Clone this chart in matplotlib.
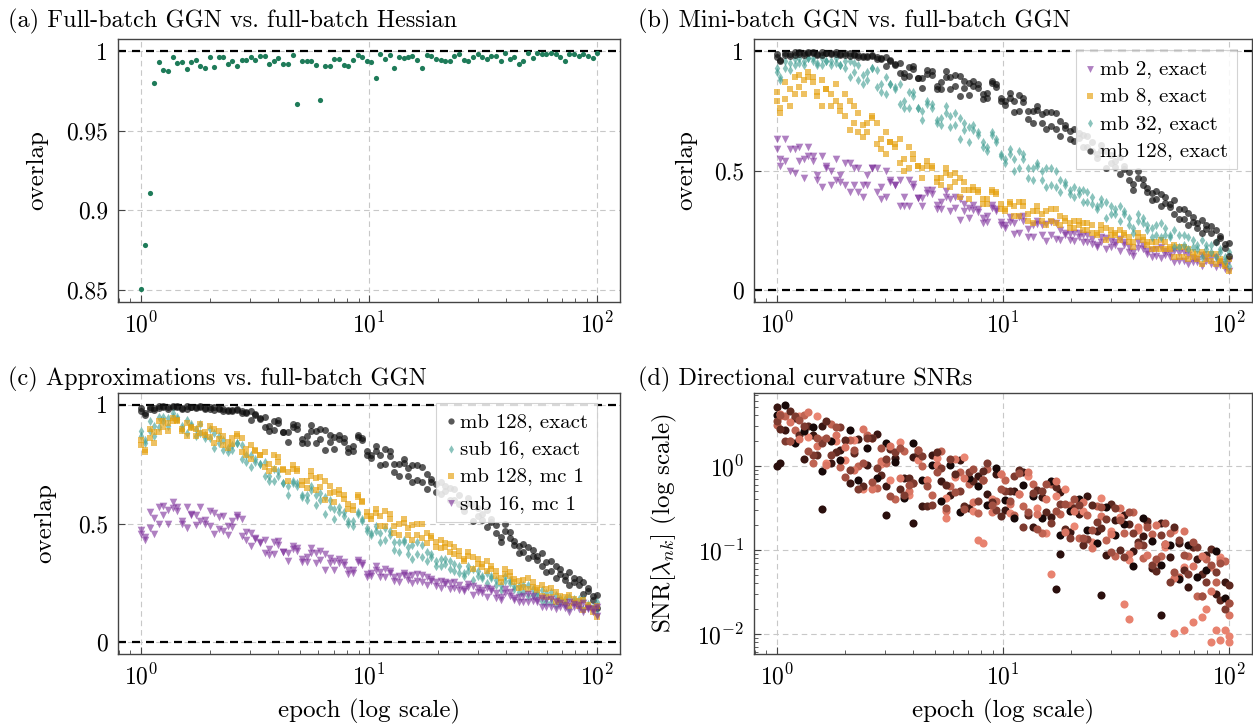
import matplotlib
matplotlib.use("Agg")
import matplotlib.pyplot as plt

plt.rcParams["font.family"] = "cmr10"
plt.rcParams["mathtext.fontset"] = "cm"
plt.rcParams["axes.formatter.use_mathtext"] = True
plt.rcParams["axes.unicode_minus"] = False

# ---- checkpoints (epochs) ----
a_epochs = [1.0, 1.04, 1.094, 1.145, 1.2, 1.257, 1.315, 1.38, 1.445, 1.51,
            1.59, 1.66, 1.745, 1.825, 1.91, 2.0, 2.1, 2.19, 2.29, 2.41,
            2.52, 2.65, 2.77, 2.9, 3.04, 3.18, 3.33, 3.49, 3.66, 3.83,
            4.01, 4.2, 4.4, 4.63, 4.85, 5.09, 5.33, 5.58, 5.85, 6.12,
            6.43, 6.73, 7.05, 7.39, 7.74, 8.13, 8.51, 8.92, 9.35, 9.78,
            10.2, 10.7, 11.2, 11.8, 12.3, 12.9, 13.5, 14.2, 14.8, 15.5,
            16.3, 17.1, 17.9, 18.7, 19.7, 20.6, 21.6, 22.6, 23.6, 24.8,
            26.0, 27.2, 28.5, 29.9, 31.3, 32.8, 34.3, 35.9, 37.7, 39.4,
            41.4, 43.3, 45.3, 47.5, 49.8, 52.2, 54.6, 57.2, 59.9, 62.8,
            65.8, 68.9, 72.2, 75.6, 79.2, 83.0, 86.9, 91.0, 95.4, 100.0]
ep_even = a_epochs[0::2]
ep_odd = a_epochs[1::2]

# ---- (a) full-batch GGN vs full-batch Hessian ----
a_overlap = [0.8506, 0.8783, 0.911, 0.980, 0.993, 0.988, 0.9875, 0.9965, 0.9925, 0.993,
             0.9885, 0.993, 0.9945, 0.9905, 0.989, 0.996, 0.99, 0.996, 0.996, 0.992,
             0.9935, 0.9905, 0.9945, 0.9945, 0.996, 0.9945, 0.997, 0.997, 0.992, 0.9935,
             0.9955, 0.992, 0.992, 0.9975, 0.967, 0.9935, 0.994, 0.9935, 0.9915, 0.9694,
             0.9905, 0.9905, 0.995, 0.995, 0.991, 0.9905, 0.9945, 0.9975, 0.996, 0.994,
             0.993, 0.983, 0.998, 0.995, 0.9975, 0.9895, 0.996, 0.9955, 0.996, 0.997,
             0.9945, 0.9895, 0.9975, 0.997, 0.995, 0.9945, 0.9935, 0.994, 0.997, 0.998,
             0.9945, 0.994, 0.9965, 0.998, 0.9965, 0.995, 0.997, 0.997, 0.994, 0.9985,
             0.995, 0.9965, 0.992, 0.994, 0.9985, 0.9955, 0.999, 0.998, 0.998, 0.9985,
             0.998, 0.9965, 0.994, 0.998, 0.998, 0.997, 0.998, 0.997, 0.9955, 0.9985]

# ---- mb 128, exact (panels b and c) ----
mb128_a = [0.986, 0.983, 0.994, 0.984, 0.991, 0.995, 0.987, 0.986, 0.979, 0.984,
           0.974, 0.976, 0.937, 0.944, 0.909, 0.925, 0.845, 0.915, 0.87, 0.84,
           0.895, 0.815, 0.86, 0.825, 0.85, 0.775, 0.79, 0.805, 0.70, 0.735,
           0.685, 0.707, 0.633, 0.635, 0.646, 0.571, 0.51, 0.538, 0.52, 0.442,
           0.439, 0.376, 0.40, 0.347, 0.338, 0.272, 0.28, 0.271, 0.203, 0.194]
mb128_b = [0.958, 0.988, 0.989, 0.995, 0.984, 0.991, 0.996, 0.982, 0.988, 0.979,
           0.981, 0.965, 0.958, 0.908, 0.933, 0.885, 0.905, 0.855, 0.915, 0.855,
           0.875, 0.855, 0.80, 0.865, 0.805, 0.825, 0.75, 0.75, 0.77, 0.675,
           0.74, 0.676, 0.674, 0.599, 0.619, 0.607, 0.532, 0.484, 0.495, 0.50,
           0.408, 0.414, 0.363, 0.375, 0.299, 0.307, 0.239, 0.268, 0.217, 0.198]
mb128_c = [0.974, 0.991, 0.985, 0.991, 0.994, 0.984, 0.992, 0.984, 0.991, 0.976,
           0.978, 0.967, 0.976, 0.941, 0.891, 0.935, 0.885, 0.90, 0.84, 0.89,
           0.81, 0.865, 0.845, 0.805, 0.86, 0.79, 0.745, 0.785, 0.75, 0.70,
           0.745, 0.644, 0.665, 0.657, 0.597, 0.553, 0.582, 0.516, 0.508, 0.42,
           0.466, 0.407, 0.353, 0.361, 0.296, 0.321, 0.26, 0.254, 0.252, 0.176]
mb128_d = [0.964, 0.979, 0.994, 0.992, 0.987, 0.991, 0.989, 0.991, 0.982, 0.974,
           0.98, 0.969, 0.961, 0.95, 0.894, 0.885, 0.92, 0.84, 0.89, 0.90,
           0.845, 0.875, 0.82, 0.875, 0.79, 0.805, 0.815, 0.715, 0.755, 0.745,
           0.675, 0.689, 0.624, 0.648, 0.583, 0.585, 0.564, 0.556, 0.459, 0.469,
           0.426, 0.379, 0.388, 0.319, 0.341, 0.286, 0.295, 0.24, 0.227, 0.142]

# ---- (b) mini-batch GGN vs full-batch GGN ----
mb32_a = [0.93, 0.93, 0.965, 0.94, 0.96, 0.97, 0.94, 0.94, 0.89, 0.94,
          0.88, 0.92, 0.82, 0.85, 0.79, 0.81, 0.71, 0.78, 0.72, 0.68,
          0.72, 0.62, 0.66, 0.60, 0.62, 0.53, 0.55, 0.57, 0.46, 0.50,
          0.44, 0.46, 0.40, 0.40, 0.41, 0.35, 0.30, 0.34, 0.33, 0.26,
          0.28, 0.22, 0.28, 0.22, 0.23, 0.17, 0.19, 0.19, 0.14, 0.14]
mb32_b = [0.88, 0.95, 0.95, 0.97, 0.94, 0.96, 0.97, 0.93, 0.95, 0.90,
          0.93, 0.83, 0.86, 0.78, 0.83, 0.76, 0.78, 0.71, 0.77, 0.69,
          0.70, 0.67, 0.60, 0.65, 0.57, 0.59, 0.51, 0.51, 0.53, 0.43,
          0.50, 0.44, 0.43, 0.37, 0.39, 0.38, 0.32, 0.29, 0.30, 0.32,
          0.25, 0.27, 0.23, 0.25, 0.19, 0.21, 0.14, 0.19, 0.16, 0.16]
mb32_c = [0.91, 0.96, 0.94, 0.96, 0.97, 0.94, 0.96, 0.94, 0.96, 0.88,
          0.91, 0.85, 0.89, 0.84, 0.76, 0.83, 0.75, 0.76, 0.69, 0.73,
          0.63, 0.68, 0.65, 0.58, 0.63, 0.55, 0.50, 0.55, 0.51, 0.46,
          0.51, 0.41, 0.42, 0.42, 0.37, 0.34, 0.37, 0.32, 0.32, 0.24,
          0.30, 0.26, 0.22, 0.23, 0.18, 0.22, 0.17, 0.17, 0.20, 0.12]
mb32_d = [0.89, 0.92, 0.97, 0.97, 0.95, 0.96, 0.95, 0.96, 0.91, 0.86,
          0.93, 0.86, 0.86, 0.86, 0.76, 0.76, 0.79, 0.70, 0.74, 0.74,
          0.67, 0.69, 0.62, 0.66, 0.56, 0.57, 0.58, 0.47, 0.52, 0.51,
          0.43, 0.45, 0.39, 0.42, 0.36, 0.36, 0.35, 0.35, 0.27, 0.29,
          0.27, 0.23, 0.26, 0.18, 0.23, 0.18, 0.21, 0.16, 0.17, 0.10]

mb8_a = [0.83, 0.80, 0.89, 0.82, 0.87, 0.88, 0.77, 0.77, 0.67, 0.74,
         0.66, 0.70, 0.57, 0.61, 0.55, 0.55, 0.47, 0.52, 0.47, 0.43,
         0.47, 0.38, 0.42, 0.38, 0.40, 0.33, 0.35, 0.37, 0.28, 0.32,
         0.29, 0.31, 0.26, 0.27, 0.28, 0.24, 0.21, 0.24, 0.24, 0.20,
         0.21, 0.17, 0.21, 0.17, 0.18, 0.13, 0.15, 0.15, 0.11, 0.11]
mb8_b = [0.74, 0.84, 0.85, 0.91, 0.81, 0.84, 0.86, 0.73, 0.77, 0.69,
         0.73, 0.59, 0.62, 0.53, 0.60, 0.52, 0.52, 0.47, 0.51, 0.45,
         0.45, 0.42, 0.36, 0.41, 0.36, 0.37, 0.31, 0.32, 0.35, 0.27,
         0.34, 0.29, 0.29, 0.25, 0.27, 0.27, 0.23, 0.21, 0.22, 0.24,
         0.19, 0.20, 0.17, 0.19, 0.14, 0.16, 0.11, 0.15, 0.12, 0.13]
mb8_c = [0.79, 0.87, 0.82, 0.88, 0.89, 0.77, 0.82, 0.75, 0.79, 0.66,
         0.70, 0.61, 0.66, 0.60, 0.50, 0.57, 0.51, 0.51, 0.44, 0.48,
         0.39, 0.42, 0.41, 0.36, 0.41, 0.34, 0.31, 0.35, 0.33, 0.29,
         0.34, 0.27, 0.28, 0.29, 0.25, 0.23, 0.26, 0.23, 0.23, 0.18,
         0.22, 0.20, 0.17, 0.18, 0.14, 0.17, 0.13, 0.13, 0.15, 0.10]
mb8_d = [0.76, 0.77, 0.90, 0.89, 0.83, 0.84, 0.79, 0.82, 0.70, 0.64,
         0.72, 0.63, 0.62, 0.63, 0.51, 0.52, 0.54, 0.45, 0.49, 0.49,
         0.42, 0.43, 0.38, 0.42, 0.34, 0.36, 0.37, 0.29, 0.33, 0.33,
         0.28, 0.30, 0.26, 0.28, 0.24, 0.25, 0.25, 0.25, 0.20, 0.22,
         0.20, 0.17, 0.20, 0.14, 0.18, 0.14, 0.16, 0.12, 0.13, 0.08]

mb2_a = [0.63, 0.54, 0.59, 0.47, 0.54, 0.56, 0.44, 0.48, 0.41, 0.51,
         0.44, 0.51, 0.39, 0.44, 0.39, 0.43, 0.35, 0.42, 0.37, 0.33,
         0.38, 0.30, 0.34, 0.31, 0.33, 0.26, 0.28, 0.31, 0.22, 0.27,
         0.23, 0.25, 0.21, 0.22, 0.23, 0.19, 0.17, 0.20, 0.20, 0.16,
         0.17, 0.14, 0.18, 0.14, 0.155, 0.11, 0.13, 0.14, 0.095, 0.10]
mb2_b = [0.52, 0.59, 0.54, 0.60, 0.46, 0.52, 0.55, 0.44, 0.51, 0.44,
         0.51, 0.38, 0.45, 0.35, 0.46, 0.385, 0.405, 0.355, 0.415, 0.345,
         0.36, 0.335, 0.28, 0.345, 0.285, 0.305, 0.24, 0.255, 0.29, 0.205,
         0.28, 0.23, 0.24, 0.20, 0.215, 0.22, 0.18, 0.165, 0.18, 0.20,
         0.15, 0.17, 0.145, 0.165, 0.12, 0.135, 0.10, 0.135, 0.105, 0.12]
mb2_c = [0.59, 0.63, 0.49, 0.55, 0.56, 0.43, 0.50, 0.45, 0.53, 0.41,
         0.48, 0.41, 0.50, 0.44, 0.35, 0.445, 0.385, 0.40, 0.34, 0.38,
         0.295, 0.345, 0.325, 0.285, 0.34, 0.27, 0.235, 0.29, 0.27, 0.23,
         0.285, 0.21, 0.233, 0.238, 0.20, 0.18, 0.216, 0.187, 0.19, 0.143,
         0.19, 0.166, 0.135, 0.154, 0.12, 0.148, 0.116, 0.123, 0.137, 0.088]
mb2_d = [0.55, 0.50, 0.60, 0.56, 0.48, 0.51, 0.46, 0.53, 0.44, 0.39,
         0.51, 0.43, 0.46, 0.46, 0.35, 0.385, 0.42, 0.34, 0.39, 0.39,
         0.33, 0.355, 0.30, 0.355, 0.27, 0.285, 0.305, 0.22, 0.275, 0.275,
         0.215, 0.24, 0.206, 0.232, 0.192, 0.203, 0.204, 0.214, 0.159, 0.176,
         0.162, 0.142, 0.165, 0.118, 0.158, 0.118, 0.146, 0.111, 0.116, 0.08]

# ---- (c) approximations vs full-batch GGN ----
sub16_a = [0.89, 0.89, 0.95, 0.91, 0.94, 0.935, 0.87, 0.875, 0.82, 0.85,
           0.81, 0.83, 0.74, 0.75, 0.70, 0.70, 0.62, 0.67, 0.62, 0.58,
           0.61, 0.52, 0.55, 0.51, 0.51, 0.45, 0.46, 0.47, 0.38, 0.40,
           0.37, 0.38, 0.32, 0.33, 0.33, 0.29, 0.26, 0.28, 0.28, 0.24,
           0.25, 0.21, 0.24, 0.20, 0.205, 0.156, 0.18, 0.18, 0.14, 0.15]
sub16_b = [0.84, 0.91, 0.93, 0.965, 0.90, 0.92, 0.92, 0.86, 0.87, 0.82,
           0.84, 0.76, 0.76, 0.70, 0.73, 0.67, 0.67, 0.62, 0.66, 0.60,
           0.60, 0.55, 0.50, 0.54, 0.48, 0.49, 0.43, 0.42, 0.43, 0.35,
           0.41, 0.36, 0.35, 0.31, 0.32, 0.32, 0.28, 0.25, 0.26, 0.28,
           0.225, 0.24, 0.20, 0.22, 0.17, 0.186, 0.143, 0.18, 0.152, 0.17]
sub16_c = [0.87, 0.93, 0.905, 0.944, 0.948, 0.88, 0.90, 0.86, 0.88, 0.81,
           0.83, 0.77, 0.79, 0.75, 0.68, 0.72, 0.66, 0.66, 0.60, 0.62,
           0.54, 0.56, 0.53, 0.49, 0.52, 0.46, 0.42, 0.45, 0.42, 0.37,
           0.42, 0.34, 0.34, 0.35, 0.30, 0.28, 0.31, 0.27, 0.27, 0.22,
           0.26, 0.236, 0.195, 0.21, 0.17, 0.20, 0.16, 0.168, 0.18, 0.14]
sub16_d = [0.85, 0.87, 0.95, 0.95, 0.91, 0.91, 0.88, 0.90, 0.84, 0.80,
           0.84, 0.79, 0.77, 0.76, 0.68, 0.67, 0.68, 0.61, 0.64, 0.63,
           0.57, 0.57, 0.51, 0.55, 0.47, 0.47, 0.48, 0.39, 0.42, 0.41,
           0.36, 0.37, 0.32, 0.34, 0.29, 0.30, 0.30, 0.29, 0.24, 0.256,
           0.237, 0.21, 0.225, 0.173, 0.21, 0.17, 0.19, 0.156, 0.161, 0.12]

mb128mc_a = [0.85, 0.86, 0.93, 0.89, 0.93, 0.925, 0.87, 0.884, 0.84, 0.87,
             0.835, 0.86, 0.77, 0.79, 0.75, 0.76, 0.68, 0.73, 0.68, 0.64,
             0.68, 0.59, 0.62, 0.575, 0.59, 0.52, 0.53, 0.54, 0.45, 0.48,
             0.45, 0.46, 0.40, 0.40, 0.40, 0.35, 0.31, 0.33, 0.32, 0.27,
             0.28, 0.23, 0.27, 0.22, 0.225, 0.17, 0.19, 0.18, 0.135, 0.143]
mb128mc_b = [0.80, 0.884, 0.906, 0.945, 0.89, 0.907, 0.92, 0.866, 0.89, 0.843,
             0.876, 0.79, 0.805, 0.74, 0.79, 0.73, 0.73, 0.68, 0.72, 0.655,
             0.66, 0.625, 0.56, 0.61, 0.55, 0.56, 0.49, 0.49, 0.52, 0.43,
             0.50, 0.44, 0.43, 0.38, 0.386, 0.38, 0.33, 0.30, 0.30, 0.31,
             0.255, 0.26, 0.234, 0.24, 0.19, 0.196, 0.153, 0.175, 0.147, 0.154]
mb128mc_c = [0.83, 0.90, 0.885, 0.924, 0.938, 0.87, 0.90, 0.873, 0.90, 0.83,
             0.86, 0.80, 0.83, 0.79, 0.72, 0.78, 0.715, 0.72, 0.65, 0.69,
             0.60, 0.634, 0.605, 0.557, 0.596, 0.53, 0.49, 0.52, 0.50, 0.45,
             0.50, 0.416, 0.423, 0.418, 0.37, 0.34, 0.36, 0.317, 0.31, 0.253,
             0.294, 0.256, 0.225, 0.23, 0.19, 0.21, 0.17, 0.163, 0.177, 0.128]
mb128mc_d = [0.81, 0.84, 0.93, 0.93, 0.90, 0.904, 0.883, 0.91, 0.856, 0.82,
             0.87, 0.815, 0.81, 0.80, 0.73, 0.726, 0.747, 0.664, 0.70, 0.696,
             0.63, 0.643, 0.582, 0.62, 0.533, 0.545, 0.552, 0.46, 0.504, 0.493,
             0.437, 0.446, 0.396, 0.412, 0.362, 0.363, 0.349, 0.344, 0.279, 0.286,
             0.267, 0.232, 0.255, 0.193, 0.228, 0.178, 0.20, 0.151, 0.156, 0.106]

sub16mc_a = [0.474, 0.483, 0.568, 0.50, 0.551, 0.569, 0.492, 0.516, 0.456, 0.533,
             0.484, 0.52, 0.406, 0.422, 0.392, 0.41, 0.344, 0.398, 0.36, 0.334,
             0.372, 0.302, 0.336, 0.306, 0.324, 0.28, 0.295, 0.30, 0.255, 0.278,
             0.258, 0.275, 0.235, 0.243, 0.255, 0.225, 0.198, 0.22, 0.223, 0.19,
             0.195, 0.168, 0.203, 0.168, 0.178, 0.14, 0.158, 0.16, 0.128, 0.138]
sub16mc_b = [0.432, 0.522, 0.534, 0.589, 0.496, 0.541, 0.57, 0.488, 0.528, 0.489,
             0.534, 0.431, 0.434, 0.374, 0.424, 0.378, 0.392, 0.35, 0.396, 0.346,
             0.356, 0.334, 0.288, 0.338, 0.288, 0.32, 0.275, 0.275, 0.29, 0.248,
             0.285, 0.258, 0.258, 0.223, 0.24, 0.245, 0.21, 0.19, 0.208, 0.223,
             0.178, 0.195, 0.175, 0.188, 0.15, 0.165, 0.128, 0.158, 0.138, 0.15]
sub16mc_c = [0.456, 0.55, 0.50, 0.556, 0.568, 0.48, 0.537, 0.50, 0.544, 0.467,
             0.512, 0.448, 0.458, 0.418, 0.368, 0.426, 0.376, 0.386, 0.336, 0.374,
             0.304, 0.342, 0.324, 0.29, 0.332, 0.292, 0.273, 0.293, 0.28, 0.26,
             0.288, 0.24, 0.253, 0.255, 0.228, 0.215, 0.238, 0.208, 0.215, 0.178,
             0.21, 0.19, 0.168, 0.178, 0.148, 0.175, 0.143, 0.148, 0.163, 0.125]
sub16mc_d = [0.441, 0.456, 0.573, 0.567, 0.512, 0.536, 0.509, 0.554, 0.478, 0.45,
             0.529, 0.464, 0.438, 0.43, 0.372, 0.378, 0.404, 0.338, 0.376, 0.382,
             0.332, 0.35, 0.304, 0.346, 0.276, 0.304, 0.308, 0.258, 0.283, 0.283,
             0.253, 0.265, 0.23, 0.25, 0.22, 0.233, 0.228, 0.23, 0.188, 0.205,
             0.188, 0.17, 0.193, 0.148, 0.18, 0.15, 0.168, 0.138, 0.145, 0.11]

# ---- (d) directional curvature SNRs ----
snr_a = [5.0, 2.66, 3.76, 1.21, 2.32, 2.96, 1.08, 1.55, 0.62, 2.09,
         1.02, 2.4, 0.575, 1.23, 0.72, 1.29, 0.33, 1.35, 0.66, 0.45,
         1.17, 0.315, 0.75, 0.47, 0.81, 0.30, 0.50, 0.84, 0.19, 0.43,
         0.25, 0.485, 0.164, 0.267, 0.435, 0.169, 0.086, 0.226, 0.264, 0.097,
         0.145, 0.061, 0.21, 0.082, 0.12, 0.0365, 0.077, 0.086, 0.030, 0.041]
snr_b = [3.09, 3.98, 2.66, 4.08, 1.09, 2.02, 3.14, 0.98, 2.04, 1.0,
         2.34, 0.55, 1.1, 0.41, 1.51, 0.62, 1.0, 0.45, 1.51, 0.58,
         0.84, 0.61, 0.277, 0.92, 0.38, 0.69, 0.26, 0.337, 0.61, 0.16,
         0.61, 0.27, 0.345, 0.137, 0.264, 0.33, 0.13, 0.084, 0.16, 0.284,
         0.081, 0.153, 0.085, 0.159, 0.048, 0.084, 0.0286, 0.079, 0.042, 0.074]
snr_c = [4.07, 5.3, 1.88, 2.59, 2.92, 0.88, 1.99, 1.17, 2.69, 0.69,
         1.62, 0.72, 1.9, 1.12, 0.42, 1.86, 0.69, 1.02, 0.38, 1.04,
         0.286, 0.72, 0.58, 0.34, 0.95, 0.39, 0.24, 0.60, 0.44, 0.243,
         0.67, 0.152, 0.29, 0.40, 0.175, 0.121, 0.325, 0.149, 0.206, 0.064,
         0.24, 0.129, 0.066, 0.114, 0.0445, 0.116, 0.047, 0.057, 0.096, 0.027]
snr_d = [3.43, 2.0, 3.98, 3.01, 1.36, 1.87, 1.36, 2.95, 0.89, 0.525,
         2.14, 0.95, 1.2, 1.48, 0.457, 0.62, 1.32, 0.34, 0.95, 1.22,
         0.51, 0.85, 0.385, 1.08, 0.298, 0.50, 0.76, 0.189, 0.48, 0.51,
         0.209, 0.348, 0.139, 0.342, 0.136, 0.217, 0.233, 0.315, 0.083, 0.159,
         0.113, 0.067, 0.151, 0.042, 0.13, 0.051, 0.108, 0.041, 0.054, 0.0196]
snr_e = [3.94, 2.0, 3.98, 2.22, 3.95, 1.1, 1.99, 1.17, 2.04, 0.525,
         2.14, 1.05, 0.69, 1.95, 0.457, 1.17, 0.69, 1.23, 0.417, 0.745,
         1.27, 0.29, 0.69, 0.40, 0.81, 0.278, 0.46, 0.77, 0.315, 0.16,
         0.44, 0.527, 0.193, 0.29, 0.125, 0.42, 0.167, 0.245, 0.076, 0.173,
         0.202, 0.072, 0.109, 0.173, 0.062, 0.107, 0.0286, 0.062, 0.082, 0.0234]
snr_f = [2.79, 4.47, 2.37, 3.01, 1.36, 3.44, 1.47, 2.04, 1.41, 0.575,
         2.14, 0.79, 1.58, 0.537, 0.72, 1.41, 0.33, 1.48, 0.60, 0.81,
         0.337, 0.66, 0.88, 0.37, 0.252, 0.50, 0.90, 0.263, 0.52, 0.287,
         0.565, 0.18, 0.318, 0.116, 0.339, 0.184, 0.353, 0.099, 0.206, 0.124,
         0.22, 0.0565, 0.118, 0.188, 0.057, 0.107, 0.051, 0.102, 0.0256, 0.0385]
snr_g = [4.22, 3.35, 2.11, 4.4, 1.71, 1.02, 2.32, 1.7, 0.89, 2.75,
         0.537, 1.15, 1.74, 0.71, 0.5, 1.55, 0.69, 1.02, 0.288, 1.22,
         0.71, 0.37, 0.69, 0.287, 0.81, 0.356, 0.46, 0.84, 0.267, 0.40,
         0.67, 0.165, 0.292, 0.37, 0.106, 0.256, 0.154, 0.315, 0.09, 0.188,
         0.088, 0.196, 0.118, 0.046, 0.167, 0.065, 0.084, 0.032, 0.075, 0.0168]
snr_h = [4.07, 2.0, 3.55, 1.52, 2.15, 2.18, 2.91, 0.74, 1.55, 1.1,
         0.645, 1.66, 0.437, 1.62, 0.60, 1.55, 0.575, 0.85, 0.316, 0.49,
         0.31, 0.925, 0.69, 0.34, 0.53, 0.387, 0.83, 0.286, 0.176, 0.605,
         0.291, 0.348, 0.407, 0.137, 0.175, 0.328, 0.094, 0.226, 0.287, 0.114,
         0.186, 0.079, 0.211, 0.054, 0.086, 0.126, 0.0286, 0.067, 0.069, 0.0234]
snr_dark_out_x = [1.0, 1.04, 1.59, 3.04, 4.01, 17.1, 17.9, 27.2, 49.8]
snr_dark_out_y = [1.0, 1.1, 0.31, 0.26, 0.21, 0.034, 0.09, 0.029, 0.017]
snr_light_out_x = [5.58, 7.74, 8.13, 16.3, 34.3, 35.9, 57.2, 62.8, 68.9, 75.6,
                   79.2, 83.0, 86.9, 91.0, 95.4, 100.0, 100.0]
snr_light_out_y = [0.24, 0.13, 0.12, 0.052, 0.023, 0.015, 0.0102, 0.011, 0.014, 0.016,
                   0.02, 0.0081, 0.011, 0.0085, 0.011, 0.008, 0.0095]

PURPLE, ORANGE, TEAL, BLACK = "#7b2c99", "#e6a10e", "#3d9c90", "#111111"
GREEN = "#1e7b59"
snr_rows = [(ep_even, snr_a, "#3a1612"), (ep_odd, snr_e, "#ea8673"),
            (ep_even, snr_b, "#c06453"), (ep_odd, snr_f, "#5c2820"),
            (ep_even, snr_c, "#170808"), (ep_odd, snr_g, "#d97563"),
            (ep_even, snr_d, "#7e3b30"), (ep_odd, snr_h, "#a04f41")]


def scatter_rows(ax, rows, marker, color, size, alpha, label):
    for i, (x, y) in enumerate(rows):
        n = min(len(x), len(y))
        ax.scatter(x[:n], y[:n], marker=marker, s=size, color=color,
                   alpha=alpha, linewidths=0, zorder=3,
                   label=label if i == 0 else None)


def style(ax, log_y=False):
    ax.set_xscale("log")
    ax.set_xlim(10 ** -0.1, 10 ** 2.1)
    if log_y:
        ax.set_yscale("log")
    ax.grid(True, which="major", color="#c8c8c8", linestyle=(0, (5, 3.5)),
            linewidth=0.8, zorder=0)
    for sp in ax.spines.values():
        sp.set_color("#444444")
        sp.set_linewidth(1.0)
    ax.tick_params(which="both", direction="in", top=False, right=False,
                   colors="#444444", labelcolor="black", labelsize=17)
    ax.tick_params(which="major", length=5, pad=7)
    ax.tick_params(which="minor", length=3)


def ref_lines(ax, levels):
    for v in levels:
        ax.axhline(v, color="black", linestyle=(0, (3.6, 2.7)), linewidth=1.6, zorder=2)


fig = plt.figure(figsize=(12.53, 7.25), dpi=100)
W, H = 1253.0, 725.0


def add_axes(x0, x1, y0, y1):
    return fig.add_axes([x0 / W, 1 - y1 / H, (x1 - x0) / W, (y1 - y0) / H])


ax_a = add_axes(118, 620, 39, 302)
ax_b = add_axes(754, 1252, 39, 302)
ax_c = add_axes(118, 620, 393, 654)
ax_d = add_axes(754, 1252, 393, 654)

S_TRI, S_SQ, S_DIA, S_DOT = 30, 25, 22, 25

# (a)
style(ax_a)
ref_lines(ax_a, [1.0])
ax_a.scatter(a_epochs, a_overlap, s=14, color=GREEN, linewidths=0, zorder=3)
ax_a.set_ylim(0.8425, 1.0075)
a_yticks = [0.85, 0.9, 0.95, 1.0]
a_yticklabels = ["0.85", "0.9", "0.95", "1"]
ax_a.set_yticks(a_yticks)
ax_a.set_yticklabels(a_yticklabels)
ax_a.set_ylabel("overlap", fontsize=18, va="center")
ax_a.yaxis.set_label_coords(-0.16, 0.5)

overlap_ticks = [0.0, 0.5, 1.0]
overlap_ticklabels = ["0", "0.5", "1"]
mb128_rows = [(ep_even, mb128_a), (ep_odd, mb128_b), (ep_even, mb128_c), (ep_odd, mb128_d)]

# (b)
style(ax_b)
ref_lines(ax_b, [0.0, 1.0])
scatter_rows(ax_b, [(ep_even, mb2_a), (ep_odd, mb2_b), (ep_even, mb2_c), (ep_odd, mb2_d)],
             "v", PURPLE, S_TRI, 0.6, "mb 2, exact")
scatter_rows(ax_b, [(ep_even, mb8_a), (ep_odd, mb8_b), (ep_even, mb8_c), (ep_odd, mb8_d)],
             "s", ORANGE, S_SQ, 0.65, "mb 8, exact")
scatter_rows(ax_b, [(ep_even, mb32_a), (ep_odd, mb32_b), (ep_even, mb32_c), (ep_odd, mb32_d)],
             "d", TEAL, S_DIA, 0.6, "mb 32, exact")
scatter_rows(ax_b, mb128_rows, "o", BLACK, S_DOT, 0.7, "mb 128, exact")
ax_b.set_ylim(-0.05, 1.05)
ax_b.set_yticks(overlap_ticks)
ax_b.set_yticklabels(overlap_ticklabels)
ax_b.set_ylabel("overlap", fontsize=18, va="center")
ax_b.yaxis.set_label_coords(-0.137, 0.5)

# (c)
style(ax_c)
ref_lines(ax_c, [0.0, 1.0])
scatter_rows(ax_c, mb128_rows, "o", BLACK, S_DOT, 0.7, "mb 128, exact")
scatter_rows(ax_c, [(ep_even, sub16_a), (ep_odd, sub16_b), (ep_even, sub16_c), (ep_odd, sub16_d)],
             "d", TEAL, S_DIA, 0.6, "sub 16, exact")
scatter_rows(ax_c, [(ep_even, mb128mc_a), (ep_odd, mb128mc_b), (ep_even, mb128mc_c), (ep_odd, mb128mc_d)],
             "s", ORANGE, S_SQ, 0.65, "mb 128, mc 1")
scatter_rows(ax_c, [(ep_even, sub16mc_a), (ep_odd, sub16mc_b), (ep_even, sub16mc_c), (ep_odd, sub16mc_d)],
             "v", PURPLE, S_TRI, 0.6, "sub 16, mc 1")
ax_c.set_ylim(-0.05, 1.05)
ax_c.set_yticks(overlap_ticks)
ax_c.set_yticklabels(overlap_ticklabels)
ax_c.set_ylabel("overlap", fontsize=18, va="center")
ax_c.yaxis.set_label_coords(-0.145, 0.5)
ax_c.set_xlabel("epoch (log scale)", fontsize=18, va="center")
ax_c.xaxis.set_label_coords(0.5, -0.22)

# (d)
style(ax_d, log_y=True)
for x, y, col in snr_rows:
    n = min(len(x), len(y))
    ax_d.scatter(x[:n], y[:n], s=34, color=col, linewidths=0, zorder=3)
ax_d.scatter(snr_dark_out_x, snr_dark_out_y, s=34, color="#2a0f0d", linewidths=0, zorder=3)
ax_d.scatter(snr_light_out_x, snr_light_out_y, s=34, color="#e8826f", linewidths=0, zorder=3)
ax_d.set_ylim(10 ** -2.24, 10 ** 0.87)
ax_d.set_ylabel("SNR[$\\lambda_{nk}$] (log scale)", fontsize=18, va="center")
ax_d.yaxis.set_label_coords(-0.18, 0.5)
ax_d.set_xlabel("epoch (log scale)", fontsize=18, va="center")
ax_d.xaxis.set_label_coords(0.5, -0.22)

leg_kw = dict(loc="upper right", fontsize=15, frameon=True, fancybox=False,
              framealpha=0.85, edgecolor="#cccccc", handlelength=0.5,
              handletextpad=0.2, labelspacing=0.42, borderpad=0.45,
              borderaxespad=0.0, markerscale=0.9)
lb = ax_b.legend(bbox_to_anchor=(0.97, 0.958), **leg_kw)
lc = ax_c.legend(bbox_to_anchor=(0.955, 0.962), **leg_kw)
for lg in (lb, lc):
    lg.get_frame().set_linewidth(0.8)
    lg.set_zorder(5)

titles = [(8, 27, "(a) Full-batch GGN vs. full-batch Hessian"),
          (638, 27, "(b) Mini-batch GGN vs. full-batch GGN"),
          (8, 385, "(c) Approximations vs. full-batch GGN"),
          (638, 385, "(d) Directional curvature SNRs")]
for x, y, t in titles:
    fig.text(x / W, 1 - y / H, t, fontsize=17.5, va="baseline", ha="left")

fig.savefig("out.png", dpi=100)
